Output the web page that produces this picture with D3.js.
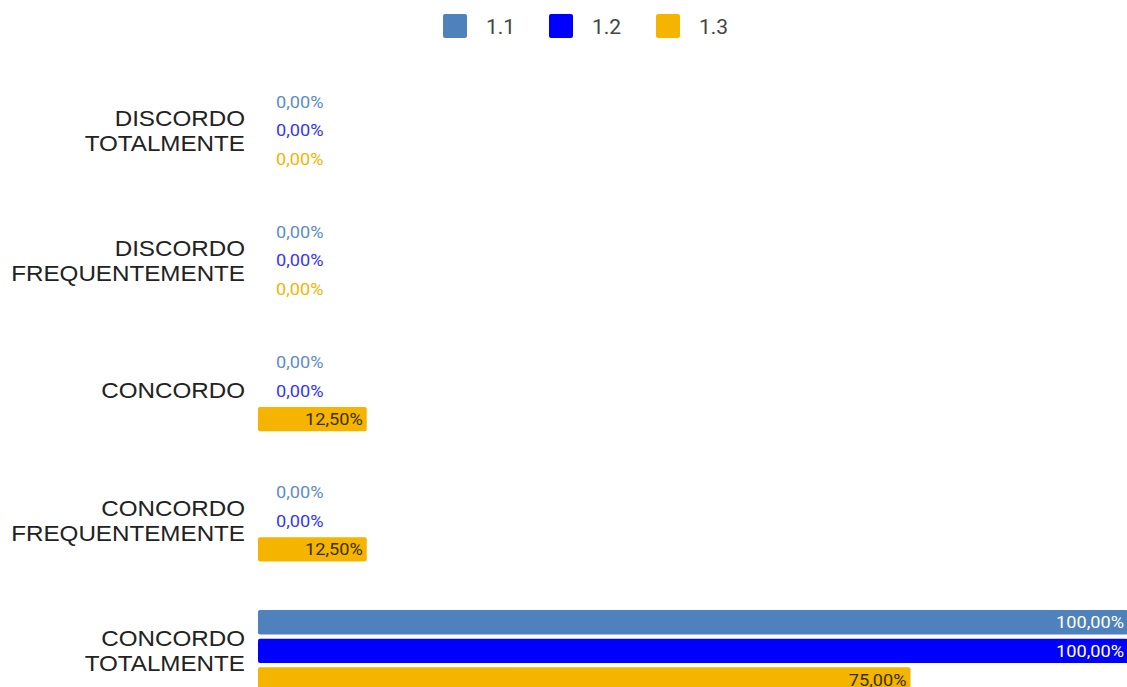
<!DOCTYPE html>
<html lang="pt">
<head>
<meta charset="UTF-8">
<title>Respostas</title>
<script src="https://cdn.jsdelivr.net/npm/d3@7"></script>
<style>
	body {
		margin: 0;
		background: #ffffff;
		overflow: hidden;
	}
	svg text {
		font-family: Roboto, "Liberation Sans", sans-serif;
	}
	.cat {
		font-family: "Liberation Sans", Arial, sans-serif;
		font-size: 22px;
		fill: #222222;
	}
	.legend text {
		font-size: 21px;
		fill: #444444;
	}
	.val {
		font-size: 17px;
	}
</style>
</head>
<body>
<div id="chart"></div>
<script>
	var categories = [
		['DISCORDO', 'TOTALMENTE'],
		['DISCORDO', 'FREQUENTEMENTE'],
		['CONCORDO'],
		['CONCORDO', 'FREQUENTEMENTE'],
		['CONCORDO', 'TOTALMENTE']
	];
	var seriesNames = ['1.1', '1.2', '1.3'];
	var values11 = [0, 0, 0, 0, 1];
	var values12 = [0, 0, 0, 0, 1];
	var values13 = [0, 0, 0.125, 0.125, 0.75];

	var colors = ['#4f81bd', '#0000ff', '#f4b400'];
	var zeroLabelColors = ['#5e8cc8', '#3434ff', '#f4b400'];
	var insideLabelColors = ['#ffffff', '#ffffff', '#3a3000'];

	var width = 1127, height = 687;

	var rows = categories.map(function (c, i) {
		return {
			key: c.join(' '),
			lines: c,
			vals: [values11[i], values12[i], values13[i]]
		};
	});

	var svg = d3.select('#chart').append('svg')
		.attr('width', width)
		.attr('height', height);

	var y = d3.scaleBand()
		.domain(rows.map(function (d) { return d.key; }))
		.range([65, 716])
		.paddingInner(0.34)
		.paddingOuter(0.17);

	var ySub = d3.scaleBand()
		.domain(seriesNames)
		.range([0, y.bandwidth()])
		.paddingInner(0.15)
		.paddingOuter(0.075);

	var x = d3.scaleLinear()
		.domain([0, 1])
		.range([258, 1128]);

	var fmt = function (v) {
		return d3.format('.2f')(v * 100).replace('.', ',') + '%';
	};

	// the source picture is a bit wider than tall, so texts get stretched
	var stretch = 1.1;

	// legend
	var legend = svg.append('g').attr('class', 'legend');
	var legendX = [443, 549, 656];
	seriesNames.forEach(function (s, i) {
		var g = legend.append('g')
			.attr('transform', 'translate(' + legendX[i] + ',14)');
		g.append('rect')
			.attr('width', 24)
			.attr('height', 24)
			.attr('rx', 2)
			.style('fill', colors[i]);
		g.append('text')
			.attr('x', 43)
			.attr('y', 12)
			.attr('dy', '0.36em')
			.text(s);
	});

	// category labels
	rows.forEach(function (r) {
		var cy = y(r.key) + y.bandwidth() / 2;
		var lh = 25;
		var t = svg.append('g')
			.attr('transform', 'translate(245,0) scale(' + stretch + ',1)')
			.append('text')
			.attr('class', 'cat')
			.attr('text-anchor', 'end');
		r.lines.forEach(function (line, k) {
			t.append('tspan')
				.attr('x', 0)
				.attr('y', cy + (k - (r.lines.length - 1) / 2) * lh)
				.attr('dy', '0.36em')
				.text(line);
		});
	});

	// bars
	var groups = svg.selectAll('.grp')
		.data(rows)
		.enter().append('g')
		.attr('class', 'grp')
		.attr('transform', function (d) { return 'translate(0,' + y(d.key) + ')'; });

	function valLabel(g, px, py, anchor, color, txt) {
		g.append('g')
			.attr('transform', 'translate(' + px + ',' + py + ') scale(1.07,1)')
			.append('text')
			.attr('class', 'val')
			.attr('dy', '0.36em')
			.attr('text-anchor', anchor)
			.style('fill', color)
			.text(txt);
	}

	groups.each(function (r) {
		var g = d3.select(this);
		seriesNames.forEach(function (s, i) {
			var v = r.vals[i];
			var by = ySub(s);
			var bh = ySub.bandwidth();
			if (v > 0) {
				g.append('rect')
					.attr('x', x(0))
					.attr('y', by)
					.attr('width', x(v) - x(0))
					.attr('height', bh)
					.attr('rx', 2)
					.style('fill', colors[i]);
				valLabel(g, x(v) - 4, by + bh / 2, 'end', insideLabelColors[i], fmt(v));
			} else {
				valLabel(g, x(0) + 18, by + bh / 2, 'start', zeroLabelColors[i], fmt(v));
			}
		});
	});
</script>
</body>
</html>
